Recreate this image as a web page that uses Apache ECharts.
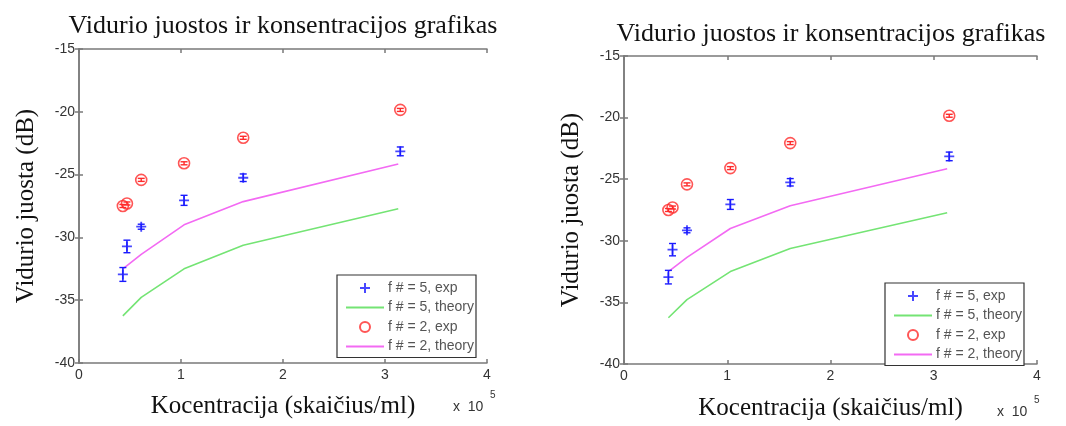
<!DOCTYPE html>
<html>
<head>
<meta charset="utf-8">
<script src="https://cdn.jsdelivr.net/npm/echarts@6/dist/echarts.min.js"></script>
<style>
html,body{margin:0;padding:0;background:#fff;}
#chart{width:1066px;height:426px;}
</style>
</head>
<body>
<div id="chart"></div>
<script>
// ---- data ----
const titleText = 'Vidurio juostos ir konsentracijos grafikas';
const xAxisTitle = 'Kocentracija (skaičius/ml)';
const yAxisTitle = 'Vidurio juosta (dB)';
const seriesNames = ['f # = 5, exp', 'f # = 5, theory', 'f # = 2, exp', 'f # = 2, theory'];

// experimental concentrations (x 10^5 /ml)
const expX = [0.43, 0.47, 0.61, 1.03, 1.61, 3.15];
const f5Exp = [-32.95, -30.72, -29.15, -27.05, -25.25, -23.15];
const f5Err = [0.55, 0.5, 0.2, 0.4, 0.3, 0.35];
const f2ExpX = [0.43, 0.47, 0.61, 1.03, 1.61, 3.15];
const f2Exp = [-27.5, -27.3, -25.42, -24.1, -22.07, -19.85];
const f2Err = [0.12, 0.12, 0.12, 0.12, 0.12, 0.12];

// theory curves
const theoryX = [0.43, 0.61, 1.03, 1.61, 3.13];
const f5Theory = [-36.25, -34.78, -32.5, -30.62, -27.72];
const f2Theory = [-32.5, -31.35, -29.0, -27.15, -24.15];

const xTicks = {min: 0, max: 4, interval: 1};
const yTicks = {min: -40, max: -15, interval: 5};

// ---- build ----
const zip = (xs, ys) => xs.map((x, i) => [x, ys[i]]);
const zip3 = (xs, ys, es) => xs.map((x, i) => [x, ys[i], es[i]]);

const colBlue = '#1a1aff', colRed = '#ff2a2a', colGreen = '#74e474', colMag = '#f36af3';
const serif = '"Liberation Serif", "DejaVu Serif", serif';
const sans = '"Liberation Sans", Arial, sans-serif';

const panels = [
  {left: 79, top: 49, width: 408, height: 314, titleX: 283, titleY: 13, legL: 337, legT: 275,
   xNameGap: 31, yNameGap: 40, expL: 453, expT: 400},
  {left: 624, top: 56, width: 413, height: 313, titleX: 831, titleY: 21, legL: 885, legT: 283,
   xNameGap: 32, yNameGap: 40, expL: 997, expT: 405}
];

function errRender(color) {
  return function (params, api) {
    const x = api.value(0), y = api.value(1), e = api.value(2);
    const t = api.coord([x, y + e]), b = api.coord([x, y - e]);
    const hw = 3.5;
    const st = {stroke: color, lineWidth: 1.4};
    return {type: 'group', children: [
      {type: 'line', shape: {x1: t[0], y1: t[1], x2: b[0], y2: b[1]}, style: st},
      {type: 'line', shape: {x1: t[0] - hw, y1: t[1], x2: t[0] + hw, y2: t[1]}, style: st},
      {type: 'line', shape: {x1: b[0] - hw, y1: b[1], x2: b[0] + hw, y2: b[1]}, style: st}
    ]};
  };
}

const grid = [], xAxis = [], yAxis = [], series = [], title = [], legend = [], graphic = [];
const axisLineStyle = {color: '#7a7a7a', width: 1.5};
const nameStyle = {fontFamily: serif, fontSize: 25, color: '#111'};

panels.forEach((p, i) => {
  grid.push({left: p.left, top: p.top, width: p.width, height: p.height, containLabel: false});
  title.push({text: titleText, left: p.titleX, top: p.titleY, textAlign: 'center', padding: 0,
    textStyle: {fontFamily: serif, fontSize: 26, fontWeight: 'normal', color: '#111'}});
  xAxis.push({type: 'value', gridIndex: i, position: 'bottom', ...xTicks,
    name: xAxisTitle, nameLocation: 'middle', nameGap: p.xNameGap, nameTextStyle: nameStyle,
    axisLine: {show: true, lineStyle: axisLineStyle},
    axisTick: {show: true, inside: true, length: 4, lineStyle: axisLineStyle},
    axisLabel: {color: '#333', fontFamily: sans, fontSize: 14, margin: 5},
    splitLine: {show: false}});
  xAxis.push({type: 'value', gridIndex: i, position: 'top', ...xTicks,
    axisLine: {show: true, lineStyle: axisLineStyle},
    axisTick: {show: true, inside: true, length: 4, lineStyle: axisLineStyle},
    axisLabel: {show: false}, splitLine: {show: false}});
  yAxis.push({type: 'value', gridIndex: i, position: 'left', ...yTicks,
    name: yAxisTitle, nameLocation: 'middle', nameGap: p.yNameGap, nameRotate: 90, nameTextStyle: nameStyle,
    axisLine: {show: true, lineStyle: axisLineStyle},
    axisTick: {show: true, inside: true, length: 4, lineStyle: axisLineStyle},
    axisLabel: {color: '#333', fontFamily: sans, fontSize: 14, margin: 4},
    splitLine: {show: false}});
  yAxis.push({type: 'value', gridIndex: i, position: 'right', ...yTicks,
    axisLine: {show: true, lineStyle: axisLineStyle},
    axisTick: {show: true, inside: true, length: 4, lineStyle: axisLineStyle},
    axisLabel: {show: false}, splitLine: {show: false}});

  const xi = 2 * i, yi = 2 * i;
  series.push({type: 'custom', xAxisIndex: xi, yAxisIndex: yi, renderItem: errRender(colBlue),
    data: zip3(expX, f5Exp, f5Err), encode: {x: 0, y: 1}, silent: true, z: 3});
  series.push({type: 'custom', xAxisIndex: xi, yAxisIndex: yi, renderItem: errRender(colRed),
    data: zip3(f2ExpX, f2Exp, f2Err), encode: {x: 0, y: 1}, silent: true, z: 3});
  series.push({name: seriesNames[0], type: 'scatter', xAxisIndex: xi, yAxisIndex: yi,
    symbol: 'path://M5,0L5,10M0,5L10,5', symbolSize: 10,
    itemStyle: {color: 'rgba(0,0,0,0)', borderColor: colBlue, borderWidth: 1.8},
    data: zip(expX, f5Exp), z: 4});
  series.push({name: seriesNames[1], type: 'line', xAxisIndex: xi, yAxisIndex: yi,
    showSymbol: false, symbol: 'none', lineStyle: {color: colGreen, width: 1.6}, itemStyle: {color: colGreen},
    data: zip(theoryX, f5Theory), z: 2});
  series.push({name: seriesNames[2], type: 'scatter', xAxisIndex: xi, yAxisIndex: yi,
    symbol: 'circle', symbolSize: 11,
    itemStyle: {color: 'rgba(0,0,0,0)', borderColor: colRed, borderWidth: 1.6},
    data: zip(f2ExpX, f2Exp), z: 4});
  series.push({name: seriesNames[3], type: 'line', xAxisIndex: xi, yAxisIndex: yi,
    showSymbol: false, symbol: 'none', lineStyle: {color: colMag, width: 1.6}, itemStyle: {color: colMag},
    data: zip(theoryX, f2Theory), z: 2});

  legend.push({left: p.legL, top: p.legT, orient: 'vertical',
    data: [
      {name: seriesNames[0]},
      {name: seriesNames[1], itemStyle: {opacity: 0}},
      {name: seriesNames[2]},
      {name: seriesNames[3], itemStyle: {opacity: 0}}
    ],
    backgroundColor: '#fff', borderColor: '#333', borderWidth: 1.2,
    padding: [6, 2, 4, 8], itemWidth: 38, itemHeight: 10, itemGap: 5.5,
    textStyle: {fontFamily: sans, fontSize: 14, color: '#555', padding: [0, 0, 0, -1]},
    selectedMode: false});

  graphic.push({type: 'text', left: p.expL, top: p.expT,
    style: {text: 'x  10', font: '14px ' + sans, fill: '#333'}});
  graphic.push({type: 'text', left: p.expL + 37, top: p.expT - 10,
    style: {text: '5', font: '10px ' + sans, fill: '#333'}});
});

const chart = echarts.init(document.getElementById('chart'), null, {renderer: 'canvas'});
chart.setOption({
  animation: false,
  backgroundColor: '#fff',
  title, grid, xAxis, yAxis, legend, series, graphic
});
</script>
</body>
</html>
